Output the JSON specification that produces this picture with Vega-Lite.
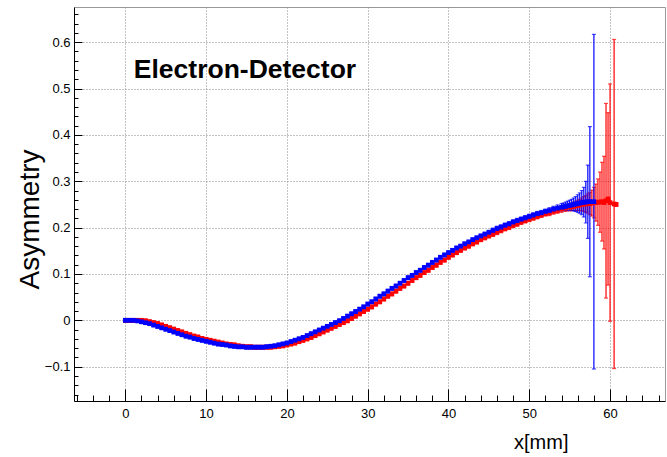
{
"$schema": "https://vega.github.io/schema/vega-lite/v6.json",
"width": 591, "height": 394,
"autosize": {"type": "none"},
"padding": {"left": 74, "top": 7, "right": 2, "bottom": 56},
"background": "white",
"config": {"view": {"stroke": "#999", "strokeWidth": 1}, "font": "Liberation Sans"},
"datasets": {"pts": [
{"c":"red","x":0,"y":0,"e":0.004},{"c":"red","x":0.5,"y":0,"e":0.004},{"c":"red","x":1,"y":0,"e":0.004},{"c":"red","x":1.5,"y":0,"e":0.004},{"c":"red","x":2,"y":0,"e":0.004},{"c":"red","x":2.5,"y":-0.001,"e":0.004},{"c":"red","x":3,"y":-0.003,"e":0.004},{"c":"red","x":3.5,"y":-0.005,"e":0.004},{"c":"red","x":4,"y":-0.007,"e":0.004},{"c":"red","x":4.5,"y":-0.01,"e":0.004},{"c":"red","x":5,"y":-0.013,"e":0.004},{"c":"red","x":5.5,"y":-0.016,"e":0.004},{"c":"red","x":6,"y":-0.019,"e":0.004},{"c":"red","x":6.5,"y":-0.022,"e":0.004},{"c":"red","x":7,"y":-0.025,"e":0.004},{"c":"red","x":7.5,"y":-0.028,"e":0.004},{"c":"red","x":8,"y":-0.031,"e":0.004},{"c":"red","x":8.5,"y":-0.034,"e":0.004},{"c":"red","x":9,"y":-0.036,"e":0.004},{"c":"red","x":9.5,"y":-0.039,"e":0.004},{"c":"red","x":10,"y":-0.041,"e":0.004},{"c":"red","x":10.5,"y":-0.043,"e":0.004},{"c":"red","x":11,"y":-0.045,"e":0.004},{"c":"red","x":11.5,"y":-0.047,"e":0.004},{"c":"red","x":12,"y":-0.049,"e":0.004},{"c":"red","x":12.5,"y":-0.051,"e":0.004},{"c":"red","x":13,"y":-0.052,"e":0.004},{"c":"red","x":13.5,"y":-0.053,"e":0.004},{"c":"red","x":14,"y":-0.055,"e":0.004},{"c":"red","x":14.5,"y":-0.056,"e":0.004},{"c":"red","x":15,"y":-0.057,"e":0.004},{"c":"red","x":15.5,"y":-0.057,"e":0.004},{"c":"red","x":16,"y":-0.058,"e":0.004},{"c":"red","x":16.5,"y":-0.058,"e":0.004},{"c":"red","x":17,"y":-0.058,"e":0.004},{"c":"red","x":17.5,"y":-0.058,"e":0.004},{"c":"red","x":18,"y":-0.058,"e":0.004},{"c":"red","x":18.5,"y":-0.057,"e":0.004},{"c":"red","x":19,"y":-0.056,"e":0.004},{"c":"red","x":19.5,"y":-0.055,"e":0.004},{"c":"red","x":20,"y":-0.053,"e":0.004},{"c":"red","x":20.5,"y":-0.051,"e":0.004},{"c":"red","x":21,"y":-0.049,"e":0.004},{"c":"red","x":21.5,"y":-0.046,"e":0.004},{"c":"red","x":22,"y":-0.043,"e":0.004},{"c":"red","x":22.5,"y":-0.04,"e":0.004},{"c":"red","x":23,"y":-0.037,"e":0.004},{"c":"red","x":23.5,"y":-0.033,"e":0.004},{"c":"red","x":24,"y":-0.029,"e":0.004},{"c":"red","x":24.5,"y":-0.025,"e":0.004},{"c":"red","x":25,"y":-0.021,"e":0.004},{"c":"red","x":25.5,"y":-0.017,"e":0.004},{"c":"red","x":26,"y":-0.013,"e":0.004},{"c":"red","x":26.5,"y":-0.009,"e":0.004},{"c":"red","x":27,"y":-0.005,"e":0.004},{"c":"red","x":27.5,"y":-0.001,"e":0.004},{"c":"red","x":28,"y":0.004,"e":0.004},{"c":"red","x":28.5,"y":0.009,"e":0.004},{"c":"red","x":29,"y":0.014,"e":0.004},{"c":"red","x":29.5,"y":0.019,"e":0.004},{"c":"red","x":30,"y":0.024,"e":0.004},{"c":"red","x":30.5,"y":0.029,"e":0.004},{"c":"red","x":31,"y":0.035,"e":0.004},{"c":"red","x":31.5,"y":0.04,"e":0.004},{"c":"red","x":32,"y":0.046,"e":0.004},{"c":"red","x":32.5,"y":0.052,"e":0.004},{"c":"red","x":33,"y":0.057,"e":0.004},{"c":"red","x":33.5,"y":0.063,"e":0.004},{"c":"red","x":34,"y":0.069,"e":0.004},{"c":"red","x":34.5,"y":0.074,"e":0.004},{"c":"red","x":35,"y":0.08,"e":0.004},{"c":"red","x":35.5,"y":0.086,"e":0.004},{"c":"red","x":36,"y":0.092,"e":0.004},{"c":"red","x":36.5,"y":0.097,"e":0.004},{"c":"red","x":37,"y":0.103,"e":0.004},{"c":"red","x":37.5,"y":0.108,"e":0.004},{"c":"red","x":38,"y":0.114,"e":0.004},{"c":"red","x":38.5,"y":0.119,"e":0.004},{"c":"red","x":39,"y":0.125,"e":0.004},{"c":"red","x":39.5,"y":0.13,"e":0.004},{"c":"red","x":40,"y":0.136,"e":0.004},{"c":"red","x":40.5,"y":0.141,"e":0.004},{"c":"red","x":41,"y":0.146,"e":0.004},{"c":"red","x":41.5,"y":0.151,"e":0.004},{"c":"red","x":42,"y":0.156,"e":0.004},{"c":"red","x":42.5,"y":0.16,"e":0.004},{"c":"red","x":43,"y":0.165,"e":0.004},{"c":"red","x":43.5,"y":0.169,"e":0.004},{"c":"red","x":44,"y":0.174,"e":0.004},{"c":"red","x":44.5,"y":0.178,"e":0.004},{"c":"red","x":45,"y":0.182,"e":0.004},{"c":"red","x":45.5,"y":0.186,"e":0.005},{"c":"red","x":46,"y":0.19,"e":0.005},{"c":"red","x":46.5,"y":0.194,"e":0.005},{"c":"red","x":47,"y":0.198,"e":0.005},{"c":"red","x":47.5,"y":0.201,"e":0.005},{"c":"red","x":48,"y":0.205,"e":0.005},{"c":"red","x":48.5,"y":0.208,"e":0.005},{"c":"red","x":49,"y":0.212,"e":0.005},{"c":"red","x":49.5,"y":0.215,"e":0.005},{"c":"red","x":50,"y":0.218,"e":0.005},{"c":"red","x":50.5,"y":0.221,"e":0.005},{"c":"red","x":51,"y":0.224,"e":0.005},{"c":"red","x":51.5,"y":0.227,"e":0.005},{"c":"red","x":52,"y":0.23,"e":0.005},{"c":"red","x":52.5,"y":0.232,"e":0.006},{"c":"red","x":53,"y":0.235,"e":0.006},{"c":"red","x":53.5,"y":0.237,"e":0.006},{"c":"red","x":54,"y":0.24,"e":0.007},{"c":"red","x":54.5,"y":0.242,"e":0.007},
{"c":"red","x":55,"y":0.244,"e":0.008},{"c":"red","x":55.25,"y":0.245,"e":0.008},{"c":"red","x":55.5,"y":0.246,"e":0.009},{"c":"red","x":55.75,"y":0.247,"e":0.01},{"c":"red","x":56,"y":0.248,"e":0.011},{"c":"red","x":56.25,"y":0.249,"e":0.012},{"c":"red","x":56.5,"y":0.25,"e":0.014},{"c":"red","x":56.75,"y":0.251,"e":0.016},{"c":"red","x":57,"y":0.251,"e":0.018},{"c":"red","x":57.25,"y":0.252,"e":0.021},{"c":"red","x":57.5,"y":0.252,"e":0.024},{"c":"red","x":57.75,"y":0.253,"e":0.028},{"c":"red","x":58,"y":0.254,"e":0.033},{"c":"red","x":58.25,"y":0.254,"e":0.04},{"c":"red","x":58.5,"y":0.255,"e":0.05},{"c":"red","x":58.75,"y":0.255,"e":0.065},{"c":"red","x":59,"y":0.256,"e":0.085},{"c":"red","x":59.25,"y":0.254,"e":0.1},{"c":"red","x":59.5,"y":0.258,"e":0.21},{"c":"red","x":59.75,"y":0.262,"e":0.186},{"c":"red","x":60,"y":0.254,"e":0.256},{"c":"red","x":60.5,"y":0.251,"e":0.355},{"c":"red","x":60.75,"y":0.25,"e":0.004},
{"c":"blue","x":0,"y":0,"e":0.004},{"c":"blue","x":0.5,"y":0,"e":0.004},{"c":"blue","x":1,"y":0,"e":0.004},{"c":"blue","x":1.5,"y":-0.001,"e":0.004},{"c":"blue","x":2,"y":-0.003,"e":0.004},{"c":"blue","x":2.5,"y":-0.005,"e":0.004},{"c":"blue","x":3,"y":-0.007,"e":0.004},{"c":"blue","x":3.5,"y":-0.01,"e":0.004},{"c":"blue","x":4,"y":-0.013,"e":0.004},{"c":"blue","x":4.5,"y":-0.016,"e":0.004},{"c":"blue","x":5,"y":-0.019,"e":0.004},{"c":"blue","x":5.5,"y":-0.022,"e":0.004},{"c":"blue","x":6,"y":-0.025,"e":0.004},{"c":"blue","x":6.5,"y":-0.028,"e":0.004},{"c":"blue","x":7,"y":-0.031,"e":0.004},{"c":"blue","x":7.5,"y":-0.034,"e":0.004},{"c":"blue","x":8,"y":-0.036,"e":0.004},{"c":"blue","x":8.5,"y":-0.039,"e":0.004},{"c":"blue","x":9,"y":-0.041,"e":0.004},{"c":"blue","x":9.5,"y":-0.043,"e":0.004},{"c":"blue","x":10,"y":-0.045,"e":0.004},{"c":"blue","x":10.5,"y":-0.047,"e":0.004},{"c":"blue","x":11,"y":-0.049,"e":0.004},{"c":"blue","x":11.5,"y":-0.051,"e":0.004},{"c":"blue","x":12,"y":-0.052,"e":0.004},{"c":"blue","x":12.5,"y":-0.053,"e":0.004},{"c":"blue","x":13,"y":-0.055,"e":0.004},{"c":"blue","x":13.5,"y":-0.056,"e":0.004},{"c":"blue","x":14,"y":-0.057,"e":0.004},{"c":"blue","x":14.5,"y":-0.057,"e":0.004},{"c":"blue","x":15,"y":-0.058,"e":0.004},{"c":"blue","x":15.5,"y":-0.058,"e":0.004},{"c":"blue","x":16,"y":-0.058,"e":0.004},{"c":"blue","x":16.5,"y":-0.058,"e":0.004},{"c":"blue","x":17,"y":-0.058,"e":0.004},{"c":"blue","x":17.5,"y":-0.057,"e":0.004},{"c":"blue","x":18,"y":-0.056,"e":0.004},{"c":"blue","x":18.5,"y":-0.055,"e":0.004},{"c":"blue","x":19,"y":-0.053,"e":0.004},{"c":"blue","x":19.5,"y":-0.051,"e":0.004},{"c":"blue","x":20,"y":-0.049,"e":0.004},{"c":"blue","x":20.5,"y":-0.046,"e":0.004},{"c":"blue","x":21,"y":-0.043,"e":0.004},{"c":"blue","x":21.5,"y":-0.04,"e":0.004},{"c":"blue","x":22,"y":-0.037,"e":0.004},{"c":"blue","x":22.5,"y":-0.033,"e":0.004},{"c":"blue","x":23,"y":-0.029,"e":0.004},{"c":"blue","x":23.5,"y":-0.025,"e":0.004},{"c":"blue","x":24,"y":-0.021,"e":0.004},{"c":"blue","x":24.5,"y":-0.017,"e":0.004},{"c":"blue","x":25,"y":-0.013,"e":0.004},{"c":"blue","x":25.5,"y":-0.009,"e":0.004},{"c":"blue","x":26,"y":-0.005,"e":0.004},{"c":"blue","x":26.5,"y":-0.001,"e":0.004},{"c":"blue","x":27,"y":0.004,"e":0.004},{"c":"blue","x":27.5,"y":0.009,"e":0.004},{"c":"blue","x":28,"y":0.014,"e":0.004},{"c":"blue","x":28.5,"y":0.019,"e":0.004},{"c":"blue","x":29,"y":0.024,"e":0.004},{"c":"blue","x":29.5,"y":0.029,"e":0.004},{"c":"blue","x":30,"y":0.035,"e":0.004},{"c":"blue","x":30.5,"y":0.04,"e":0.004},{"c":"blue","x":31,"y":0.046,"e":0.004},{"c":"blue","x":31.5,"y":0.052,"e":0.004},{"c":"blue","x":32,"y":0.057,"e":0.004},{"c":"blue","x":32.5,"y":0.063,"e":0.004},{"c":"blue","x":33,"y":0.069,"e":0.004},{"c":"blue","x":33.5,"y":0.074,"e":0.004},{"c":"blue","x":34,"y":0.08,"e":0.004},{"c":"blue","x":34.5,"y":0.086,"e":0.004},{"c":"blue","x":35,"y":0.092,"e":0.004},{"c":"blue","x":35.5,"y":0.097,"e":0.004},{"c":"blue","x":36,"y":0.103,"e":0.004},{"c":"blue","x":36.5,"y":0.108,"e":0.004},{"c":"blue","x":37,"y":0.114,"e":0.004},{"c":"blue","x":37.5,"y":0.119,"e":0.004},{"c":"blue","x":38,"y":0.125,"e":0.004},{"c":"blue","x":38.5,"y":0.13,"e":0.004},{"c":"blue","x":39,"y":0.136,"e":0.004},{"c":"blue","x":39.5,"y":0.141,"e":0.004},{"c":"blue","x":40,"y":0.146,"e":0.004},{"c":"blue","x":40.5,"y":0.151,"e":0.004},{"c":"blue","x":41,"y":0.156,"e":0.004},{"c":"blue","x":41.5,"y":0.16,"e":0.004},{"c":"blue","x":42,"y":0.165,"e":0.004},{"c":"blue","x":42.5,"y":0.169,"e":0.004},{"c":"blue","x":43,"y":0.174,"e":0.004},{"c":"blue","x":43.5,"y":0.178,"e":0.004},{"c":"blue","x":44,"y":0.182,"e":0.004},{"c":"blue","x":44.5,"y":0.186,"e":0.004},{"c":"blue","x":45,"y":0.19,"e":0.004},{"c":"blue","x":45.5,"y":0.194,"e":0.005},{"c":"blue","x":46,"y":0.198,"e":0.005},{"c":"blue","x":46.5,"y":0.201,"e":0.005},{"c":"blue","x":47,"y":0.205,"e":0.005},{"c":"blue","x":47.5,"y":0.208,"e":0.005},{"c":"blue","x":48,"y":0.212,"e":0.005},{"c":"blue","x":48.5,"y":0.215,"e":0.005},{"c":"blue","x":49,"y":0.218,"e":0.005},{"c":"blue","x":49.5,"y":0.221,"e":0.005},{"c":"blue","x":50,"y":0.224,"e":0.005},{"c":"blue","x":50.5,"y":0.227,"e":0.005},{"c":"blue","x":51,"y":0.23,"e":0.005},{"c":"blue","x":51.5,"y":0.232,"e":0.005},{"c":"blue","x":52,"y":0.235,"e":0.005},{"c":"blue","x":52.5,"y":0.237,"e":0.006},{"c":"blue","x":53,"y":0.24,"e":0.006},{"c":"blue","x":53.5,"y":0.242,"e":0.007},
{"c":"blue","x":54,"y":0.244,"e":0.008},{"c":"blue","x":54.25,"y":0.245,"e":0.008},{"c":"blue","x":54.5,"y":0.246,"e":0.009},{"c":"blue","x":54.75,"y":0.247,"e":0.01},{"c":"blue","x":55,"y":0.248,"e":0.011},{"c":"blue","x":55.25,"y":0.249,"e":0.012},{"c":"blue","x":55.5,"y":0.25,"e":0.014},{"c":"blue","x":55.75,"y":0.251,"e":0.016},{"c":"blue","x":56,"y":0.252,"e":0.019},{"c":"blue","x":56.25,"y":0.253,"e":0.022},{"c":"blue","x":56.5,"y":0.254,"e":0.026},{"c":"blue","x":56.75,"y":0.255,"e":0.032},{"c":"blue","x":57,"y":0.255,"e":0.045},{"c":"blue","x":57.25,"y":0.256,"e":0.079},{"c":"blue","x":57.5,"y":0.256,"e":0.162},{"c":"blue","x":58,"y":0.256,"e":0.361}
],
"lbl": [{"label": "Electron-Detector", "x": 1.05, "y": 0.523}]},
"data": {"name": "pts"},
"encoding": {
  "x": {"field": "x", "type": "quantitative",
    "scale": {"domain": [-6.35, 66.8], "nice": false, "zero": false},
    "axis": {
      "title": "x[mm]", "titleFont": "Liberation Sans", "titleFontSize": 20, "titleFontWeight": "normal", "titleColor": "black",
      "titleX": 494, "titleY": 41, "titleAlign": "right", "titleBaseline": "middle", "titleAnchor": null,
      "values": [-6,-4,-2,0,2,4,6,8,10,12,14,16,18,20,22,24,26,28,30,32,34,36,38,40,42,44,46,48,50,52,54,56,58,60,62,64,66],
      "labelExpr": "datum.value % 10 === 0 ? datum.label : ''",
      "labelFont": "Liberation Sans", "labelFontSize": 13, "labelColor": "black", "labelPadding": 18, "labelFlush": false, "labelOverlap": false,
      "tickSize": {"condition": {"test": "datum.value % 10 === 0", "value": -12}, "value": -6},
      "tickColor": "black", "tickWidth": 1,
      "domainColor": "black", "domainWidth": 1,
      "grid": true, "gridColor": "#888", "gridDash": [1, 2], "gridWidth": 1,
      "gridOpacity": {"condition": {"test": "datum.value % 10 === 0", "value": 1}, "value": 0}
    }},
  "y": {"field": "y", "type": "quantitative",
    "scale": {"domain": [-0.174, 0.676], "nice": false, "zero": false},
    "axis": {
      "title": "Asymmetry", "titleFont": "Liberation Sans", "titleFontSize": 28, "titleFontWeight": "normal", "titleColor": "black",
      "titleX": -44, "titleY": 212, "titleAngle": -90, "titleAlign": "center", "titleBaseline": "middle", "titleAnchor": null,
      "values": [-0.16,-0.14,-0.12,-0.1,-0.08,-0.06,-0.04,-0.02,0,0.02,0.04,0.06,0.08,0.1,0.12,0.14,0.16,0.18,0.2,0.22,0.24,0.26,0.28,0.3,0.32,0.34,0.36,0.38,0.4,0.42,0.44,0.46,0.48,0.5,0.52,0.54,0.56,0.58,0.6,0.62,0.64,0.66],
      "labelExpr": "abs(round(datum.value*100)) % 10 === 0 ? (abs(datum.value) < 0.001 ? '0' : format(datum.value, '.1f')) : ''",
      "labelFont": "Liberation Sans", "labelFontSize": 13, "labelColor": "black", "labelPadding": 12, "labelFlush": false, "labelOverlap": false,
      "tickSize": {"condition": {"test": "abs(round(datum.value*100)) % 10 === 0", "value": -8}, "value": -4},
      "tickColor": "black", "tickWidth": 1,
      "domainColor": "black", "domainWidth": 1,
      "grid": true, "gridColor": "#888", "gridDash": [1, 2], "gridWidth": 1,
      "gridOpacity": {"condition": {"test": "abs(round(datum.value*100)) % 10 === 0", "value": 1}, "value": 0}
    }},
  "color": {"field": "c", "type": "nominal", "scale": {"domain": ["red", "blue"], "range": ["#ff0000", "#0000ff"]}, "legend": null}
},
"layer": [
  {"mark": {"type": "errorbar", "ticks": {"size": 4, "thickness": 1.2}, "thickness": 1.2},
   "encoding": {"yError": {"field": "e"}}},
  {"mark": {"type": "point", "shape": "square", "filled": true, "size": 22, "opacity": 1}},
  {"data": {"name": "lbl"},
   "mark": {"type": "text", "font": "Liberation Sans", "fontSize": 26.5, "fontWeight": "bold", "align": "left", "baseline": "alphabetic"},
   "encoding": {"text": {"field": "label"}, "color": {"value": "black"}}}
]
}
